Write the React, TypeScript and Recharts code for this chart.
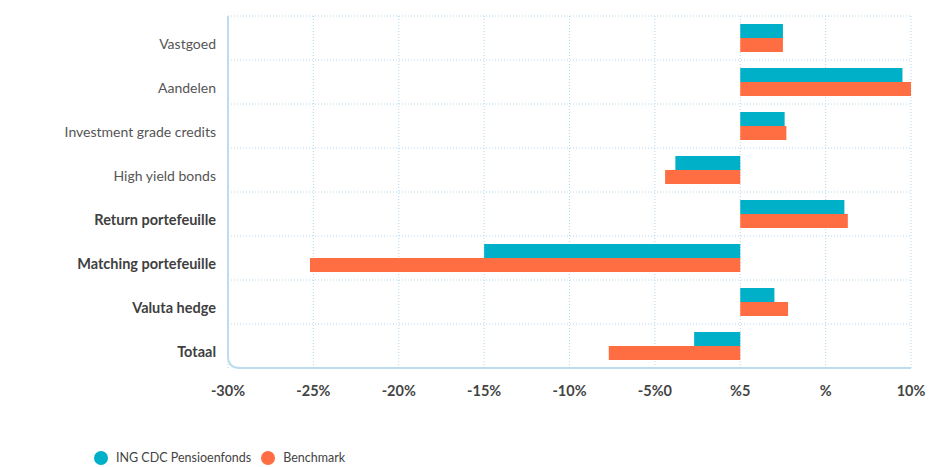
import React from "react";
import {
  BarChart,
  Bar,
  XAxis,
  YAxis,
  CartesianGrid,
  Legend,
  ReferenceArea,
} from "recharts";

const categories = [
  "Vastgoed",
  "Aandelen",
  "Investment grade credits",
  "High yield bonds",
  "Return portefeuille",
  "Matching portefeuille",
  "Valuta hedge",
  "Totaal",
];
const boldCategories = [
  "Return portefeuille",
  "Matching portefeuille",
  "Valuta hedge",
  "Totaal",
];
const fondsValues = [2.5, 9.5, 2.6, -3.8, 6.1, -15.0, 2.0, -2.7];
const benchmarkValues = [2.5, 10.0, 2.7, -4.4, 6.3, -25.2, 2.8, -7.7];
const xTicks = [-30, -25, -20, -15, -10, -5, 0, 5, 10];
const xTickLabels = ["-30%", "-25%", "-20%", "-15%", "-10%", "-5%0", "%5", "%", "10%"];
const seriesNames = ["ING CDC Pensioenfonds", "Benchmark"];

const TEAL = "#00b0c8";
const ORANGE = "#ff6d42";
const GRID = "#b3d9ee";
const FONT = "Lato, 'Open Sans', sans-serif";

const data = categories.map((name, i) => ({
  name,
  fonds: fondsValues[i],
  benchmark: benchmarkValues[i],
}));

const YTick = ({ x, y, payload }: any) => {
  const bold = boldCategories.includes(payload.value);
  return (
    <text
      x={x - 4}
      y={y + 6}
      dy="0.35em"
      textAnchor="end"
      fontFamily={FONT}
      fontSize={bold ? 14.5 : 14}
      fontWeight={bold ? 700 : 400}
      fill={bold ? "#3f3f3f" : "#555"}
    >
      {payload.value}
    </text>
  );
};

const XTick = ({ x, y, payload }: any) => (
  <text
    x={x}
    y={y + 15}
    dy="0.35em"
    textAnchor="middle"
    fontFamily={FONT}
    fontSize={14.5}
    fontWeight={700}
    fill="#444"
  >
    {xTickLabels[xTicks.indexOf(payload.value)]}
  </text>
);

// L-shaped axis frame with rounded bottom-left corner
const AxisFrame = ({ x, y, width, height }: any) => {
  const r = 12;
  return (
    <path
      d={`M${x},${y} L${x},${y + height - r} Q${x},${y + height} ${x + r},${y + height} L${x + width},${y + height}`}
      fill="none"
      stroke="#bddcee"
      strokeWidth={2}
    />
  );
};

const LegendContent = ({ payload }: any) => {
  const items = seriesNames
    .map((n) => (payload || []).find((p: any) => p.value === n))
    .filter(Boolean);
  return (
    <div style={{ display: "flex", alignItems: "center", fontFamily: FONT, fontSize: 12.5, color: "#444" }}>
      {items.map((p: any, i: number) => (
        <div key={i} style={{ display: "flex", alignItems: "center", marginRight: 10 }}>
          <span
            style={{
              width: 14,
              height: 14,
              borderRadius: 7,
              background: p.color,
              display: "inline-block",
              marginRight: 8,
            }}
          />
          <span>{p.value}</span>
        </div>
      ))}
    </div>
  );
};

export default function App() {
  return (
    <div style={{ position: "absolute", left: 0, top: 0, width: 933, height: 467, background: "#fff" }}>
      <BarChart
        width={933}
        height={467}
        data={data}
        layout="vertical"
        margin={{ top: 16, right: 22, bottom: 69, left: 0 }}
        barCategoryGap={8}
        barGap={0}
      >
        <CartesianGrid
          stroke={GRID}
          strokeDasharray="1 2"
          horizontalCoordinatesGenerator={({ offset }: any) =>
            categories.map((_, i) => offset.top + (i * offset.height) / categories.length)
          }
        />
        <XAxis
          type="number"
          domain={[-30, 10]}
          ticks={xTicks}
          tick={<XTick />}
          tickLine={false}
          axisLine={false}
          interval={0}
        />
        <YAxis
          type="category"
          dataKey="name"
          width={228}
          tick={<YTick />}
          tickLine={false}
          axisLine={false}
          interval={0}
        />
        <ReferenceArea x1={-30} x2={10} fill="none" stroke="none" shape={<AxisFrame />} ifOverflow="visible" />
        <Bar dataKey="fonds" name={seriesNames[0]} fill={TEAL} isAnimationActive={false} />
        <Bar dataKey="benchmark" name={seriesNames[1]} fill={ORANGE} isAnimationActive={false} />
        <Legend
          layout="horizontal"
          verticalAlign="middle"
          align="center"
          content={<LegendContent />}
          wrapperStyle={{ left: 94, top: 450, width: "auto" }}
        />
      </BarChart>
    </div>
  );
}
